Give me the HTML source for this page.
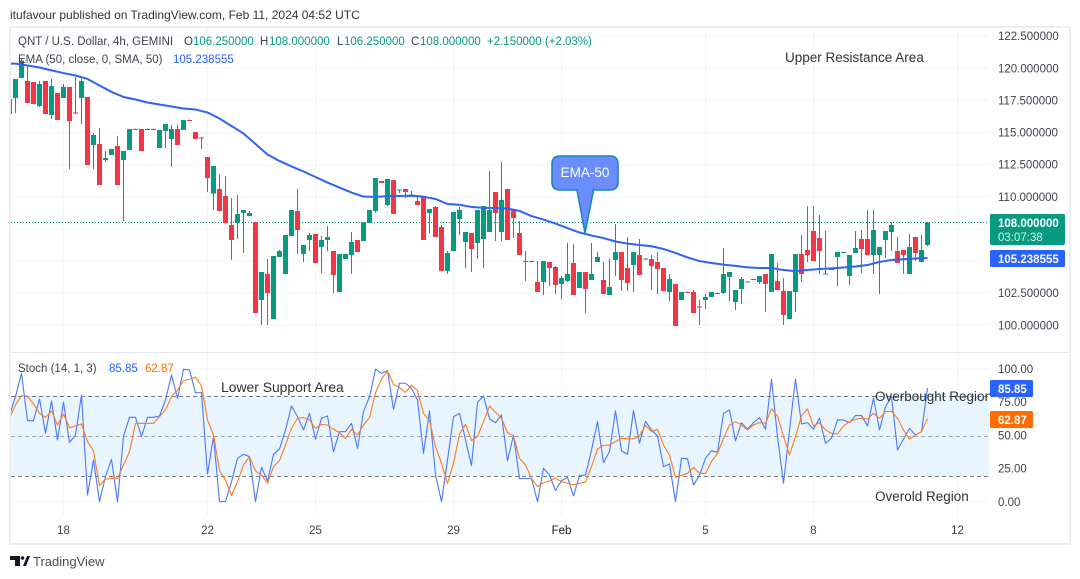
<!DOCTYPE html>
<html lang="en">
<head>
<meta charset="utf-8">
<title>QNT / U.S. Dollar 4h chart</title>
<style>
html,body{margin:0;padding:0;background:#fff;width:1080px;height:579px;overflow:hidden}
svg{display:block;font-family:"Liberation Sans",Arial,sans-serif}
text{white-space:pre}
</style>
</head>
<body>
<svg id="chart" width="1080" height="579" viewBox="0 0 1080 579">
  <defs>
    <clipPath id="pane-clip"><rect x="11" y="27" width="978" height="489"/></clipPath>
    <clipPath id="note-clip"><rect x="11" y="353" width="979" height="163"/></clipPath>
  </defs>
  <rect x="0" y="0" width="1080" height="579" fill="#ffffff"/>
  <text x="10" y="19" font-size="12" fill="#333">itufavour published on TradingView.com, Feb 11, 2024 04:52 UTC</text>
  <rect x="10" y="27" width="1060" height="517" fill="none" stroke="#eceef3" stroke-width="2"/>

  <g id="grid"></g>
  <rect x="11" y="352" width="1058" height="1" fill="#e4e5ee"/>
  <rect id="stoch-band" x="11" width="978" fill="#e8f4fe"/>
  <g id="stoch-levels"></g>
  <line id="last-price-line" x1="11" x2="989" stroke="#089981" stroke-width="1" stroke-dasharray="1 2"/>

  <g id="candles" clip-path="url(#pane-clip)" shape-rendering="crispEdges"></g>
  <path id="ema-line" fill="none" stroke="#2f62f5" stroke-width="2" stroke-linejoin="round" clip-path="url(#pane-clip)"/>
  <path id="stoch-k" fill="none" stroke="#4a78f7" stroke-width="1.1" stroke-linejoin="round" clip-path="url(#pane-clip)"/>
  <path id="stoch-d" fill="none" stroke="#ff7a1a" stroke-width="1.1" stroke-linejoin="round" clip-path="url(#pane-clip)"/>

  <g font-size="11.5">
    <text x="18" y="45" fill="#3f424d">QNT / U.S. Dollar, 4h, GEMINI</text>
    <text x="184" y="45" fill="#3f424d">O</text>
    <text x="193" y="45" fill="#089981">106.250000</text>
    <text x="260" y="45" fill="#3f424d">H</text>
    <text x="269" y="45" fill="#089981">108.000000</text>
    <text x="337" y="45" fill="#3f424d">L</text>
    <text x="344" y="45" fill="#089981">106.250000</text>
    <text x="411" y="45" fill="#3f424d">C</text>
    <text x="420" y="45" fill="#089981">108.000000</text>
    <text x="487" y="45" fill="#089981">+2.150000 (+2.03%)</text>
    <text x="18" y="63" fill="#3f424d">EMA (50, close, 0, SMA, 50)</text>
    <text x="173" y="63" fill="#2962ff">105.238555</text>
    <text x="18" y="372" fill="#3f424d">Stoch (14, 1, 3)</text>
    <text x="109" y="372" fill="#2962ff">85.85</text>
    <text x="145" y="372" fill="#ff6d00">62.87</text>
  </g>

  <g font-size="13.5" fill="#2f3136">
    <text x="785" y="62">Upper Resistance Area</text>
    <text x="221" y="392" font-size="13.9">Lower Support Area</text>
    <text x="875" y="401" clip-path="url(#note-clip)">Overbought Region</text>
    <text x="875" y="501">Overold Region</text>
  </g>

  <g>
    <path d="M560 156 H610 Q618 156 618 164 V182 Q618 190 610 190 H593.5 L585 233 L577 190 H560 Q552 190 552 182 V164 Q552 156 560 156 Z" fill="#6b8dfb" stroke="#1687c4" stroke-width="1.6" stroke-linejoin="round"/>
    <text x="585" y="177" font-size="13.5" fill="#ffffff" text-anchor="middle">EMA-50</text>
  </g>

  <g id="price-axis" font-size="11.5" fill="#3f424d"></g>
  <g id="stoch-axis" font-size="11.5" fill="#3f424d"></g>
  <g id="time-axis" font-size="11.5" fill="#3f424d"></g>

  <g>
    <rect x="990" y="214" width="75" height="31" rx="1.5" fill="#089981"/>
    <text x="998" y="227" font-size="11.5" font-weight="bold" fill="#ffffff">108.000000</text>
    <text x="998" y="241" font-size="11.5" fill="#d5efe9">03:07:38</text>
  </g>
  <g>
    <rect x="990" y="250" width="75" height="17" rx="1.5" fill="#2962ff"/>
    <text x="998" y="263" font-size="11.5" font-weight="bold" fill="#ffffff">105.238555</text>
  </g>
  <g>
    <rect x="990" y="380" width="43" height="17" rx="1.5" fill="#2962ff"/>
    <text x="998" y="393" font-size="11.5" font-weight="bold" fill="#ffffff">85.85</text>
  </g>
  <g>
    <rect x="990" y="411" width="43" height="17" rx="1.5" fill="#ff6d00"/>
    <text x="998" y="424" font-size="11.5" font-weight="bold" fill="#ffffff">62.87</text>
  </g>

  <g>
    <path d="M10 556 H20 V566 H15 V560 H10 Z M23 566 L27 556 H30 L26 566 Z" fill="#131722"/>
    <circle cx="22.5" cy="558" r="1.8" fill="#131722"/>
    <text x="33" y="566" font-size="13" fill="#4a4d57">TradingView</text>
  </g>
</svg>

<script>
// Candles: first entry is the partially clipped bar at the left edge.
const opens = [
116.44,117.69,119.25,119.01,118.93,117.07,119.01,116.37,118.08,117.69,
118.55,116.55,117.69,117.77,114.03,114.11,112.87,113.25,113.95,112.87,
113.64,115.28,115.28,115.28,115.23,113.80,115.12,114.50,115.28,115.20,
115.98,115.04,114.60,113.10,110.24,110.61,110.06,107.81,107.98,108.74,
108.51,108.04,101.97,103.99,100.49,105.31,103.99,106.95,108.90,105.55,
106.64,107.11,106.09,106.64,105.78,102.59,105.16,105.47,106.64,106.56,
107.96,108.90,111.23,109.36,111.31,110.50,110.61,110.12,109.67,110.06,
108.74,109.21,107.65,104.22,105.78,108.27,106.48,107.18,106.41,106.72,
107.26,110.37,107.26,110.61,109.05,107.18,105.00,104.95,103.37,103.37,
104.93,104.54,103.21,103.45,104.85,102.90,104.15,103.52,104.93,103.52,
102.36,105.08,105.70,104.46,104.69,105.47,105.14,105.16,104.93,104.46,
102.59,103.21,101.97,102.59,102.59,101.45,101.97,102.20,102.50,102.51,
103.76,101.81,102.82,103.35,103.58,103.37,103.99,102.59,103.45,102.67,
100.49,102.59,105.55,105.86,107.34,106.79,103.96,104.36,105.31,105.68,
103.84,105.63,106.72,106.72,105.47,105.47,106.64,107.26,105.78,105.86,
103.99,106.87,104.93,106.25];
const highs = [
117.61,119.17,120.72,120.26,118.93,119.01,119.01,119.17,118.08,118.78,
118.55,119.32,119.17,117.77,114.97,115.35,113.57,113.72,114.73,113.57,
115.28,115.30,115.28,115.30,115.30,115.20,115.67,115.59,115.59,115.98,
116.00,115.04,114.65,113.10,112.40,111.77,111.62,109.91,110.14,108.97,
108.90,108.04,104.15,105.16,105.39,105.86,107.03,108.97,110.61,106.25,
107.18,107.11,106.95,107.73,105.78,105.55,105.55,107.26,106.64,108.04,
108.97,111.46,111.23,111.39,111.31,110.56,110.61,110.45,110.14,110.06,
109.05,109.29,107.81,105.78,108.82,109.21,107.26,107.18,108.97,109.29,
112.01,110.37,112.71,110.61,109.05,108.12,105.78,105.00,105.00,105.00,
104.93,104.61,103.84,106.41,106.33,104.15,104.15,106.41,105.70,104.93,
105.16,107.88,105.70,106.87,105.70,106.72,105.18,105.47,105.70,104.46,
103.99,103.21,102.59,102.62,102.75,101.97,102.44,102.59,102.55,106.02,
104.15,102.75,103.76,103.39,103.62,103.84,103.99,105.55,104.85,103.68,
102.67,105.55,107.03,109.29,109.29,108.58,107.34,104.40,105.70,105.72,
105.47,107.34,107.42,108.97,108.97,106.09,107.34,108.04,106.87,105.86,
107.11,106.87,107.03,108.04];
const lows = [
116.44,116.54,119.25,117.30,117.22,116.99,116.44,116.05,115.98,117.69,
112.17,116.44,115.67,112.48,112.17,110.92,112.71,113.25,110.92,108.12,
113.64,115.20,113.57,115.20,115.20,113.80,113.80,112.32,114.03,115.20,
115.90,114.50,113.72,110.37,108.97,108.90,107.98,105.08,106.72,105.63,
108.51,100.96,100.02,100.02,100.49,105.31,103.99,106.95,105.55,104.93,
105.78,104.85,104.07,105.78,102.51,102.59,105.16,103.99,105.70,106.56,
107.96,108.74,111.07,109.29,108.66,110.30,109.91,110.10,109.36,106.64,
107.18,106.87,104.22,103.99,105.78,107.03,104.46,104.15,105.16,104.46,
107.26,106.56,106.56,106.64,106.79,105.47,103.45,104.90,102.59,102.36,
103.06,102.44,102.05,103.37,102.36,102.90,100.96,103.52,104.93,102.44,
102.36,103.84,102.67,102.67,102.59,103.91,105.10,102.75,102.44,102.67,
101.89,99.95,101.97,102.55,100.96,100.02,101.27,102.20,102.48,102.44,
101.89,101.19,101.66,103.33,103.56,103.21,101.04,102.59,102.75,100.02,
100.49,101.04,103.37,104.93,105.00,103.99,103.94,104.34,103.06,105.66,
103.14,105.63,104.07,105.47,103.99,102.44,105.24,105.78,104.85,103.99,
103.99,105.00,104.93,106.17];
const closes = [
117.61,119.17,120.60,117.30,117.22,118.78,116.44,118.62,115.98,118.55,
115.90,116.50,119.01,112.48,114.81,110.92,113.02,113.72,110.92,113.57,
115.28,115.23,113.57,115.23,115.28,115.20,115.67,115.28,114.03,115.98,
115.93,114.50,114.55,111.46,112.40,108.90,107.98,106.64,108.66,108.97,
108.74,100.96,104.15,102.51,105.39,105.78,107.03,108.97,107.42,106.25,
107.03,104.85,106.64,106.87,103.91,105.55,105.55,106.48,105.70,108.04,
108.97,111.46,111.07,111.39,108.66,110.56,110.37,110.17,109.36,106.64,
109.05,106.87,104.22,105.63,108.82,108.97,107.26,105.94,108.97,109.29,
108.97,108.74,109.75,106.64,108.35,105.47,104.95,105.00,102.59,105.00,
104.46,103.14,103.68,103.99,102.36,104.15,102.82,103.99,105.31,102.44,
102.98,105.70,103.52,103.29,105.70,103.91,105.18,104.61,104.38,102.67,
103.60,99.95,102.59,102.56,100.96,101.40,102.20,102.59,102.53,103.99,
104.15,102.75,103.60,103.39,103.62,103.84,103.21,105.55,102.75,100.80,
102.67,105.55,103.99,105.47,105.00,105.78,104.02,104.40,105.70,105.72,
105.47,106.02,105.94,105.47,107.42,106.09,107.34,107.81,104.85,105.47,
106.09,105.63,105.86,108.00];

// EMA(50), sampled every second bar starting from the off-screen-left bar.
const emaValues = [
120.38,120.36,120.22,120.06,119.84,119.63,119.44,119.17,118.66,118.16,117.77,
117.57,117.34,117.18,117.03,116.87,116.79,116.56,116.09,115.51,114.93,
114.11,113.29,112.79,112.36,111.97,111.54,111.11,110.72,110.33,110.02,
109.98,110.06,110.06,110.08,110.01,109.83,109.44,109.38,109.21,109.14,
109.13,109.09,108.90,108.50,108.23,107.92,107.57,107.22,106.99,106.79,
106.52,106.36,106.25,106.15,105.94,105.63,105.28,105.00,104.85,104.72,
104.62,104.51,104.46,104.46,104.30,104.22,104.30,104.38,104.43,104.50,
104.58,104.69,104.93,105.08,105.14,105.20,105.24];

const stochK = [
65.7,79.4,97.0,61.4,61.4,77.7,51.9,76.2,46.9,75.2,
45.1,50.6,80.7,5.5,31.8,0.5,19.3,32.3,0.5,49.4,
63.9,63.9,49.4,63.9,63.9,64.9,76.9,95.7,78.2,100,
99.5,82.4,82.4,21.3,49.4,0.5,0.5,15.5,33.1,36.1,
34.3,0.5,26.3,16.0,36.1,40.1,54.4,72.4,64.4,54.4,
66.9,47.4,63.2,64.9,38.1,53.1,53.1,59.4,40.6,
68.2,79.4,100,97.0,99.0,69.9,89.5,89.5,85.7,76.9,
36.8,68.7,20.5,0.5,31.8,64.4,66.9,46.9,27.6,75.2,
79.9,62.7,59.9,65.7,31.1,50.6,17.8,17.8,17.8,0.5,
25.6,20.5,8.8,16.3,18.8,4.8,20.3,20.5,39.3,60.6,
29.8,38.1,68.9,38.6,36.1,68.9,44.4,60.9,54.4,49.9,
26.8,28.8,0.5,33.1,32.8,13.0,20.5,33.1,38.8,37.6,
66.9,69.4,46.1,59.9,54.9,59.9,63.7,54.9,92.5,49.4,
14.3,54.4,92.5,58.9,59.9,55.1,63.2,44.4,48.1,61.9,
61.9,59.9,65.2,65.2,57.4,78.2,54.4,71.9,79.4,39.3,
47.4,55.6,50.6,53.1,85.85];
const stochD = [
63.2,73.2,80.2,79.9,73.9,66.9,63.7,68.7,58.1,66.4,
56.1,57.4,58.9,45.6,38.8,12.3,17.5,18.0,18.0,28.1,
38.1,59.4,59.4,59.4,59.4,64.4,69.4,79.4,84.4,91.5,
92.5,94.0,87.7,61.9,50.6,23.8,16.8,5.0,15.5,28.1,
34.3,23.6,20.5,14.3,26.8,31.3,43.1,55.6,63.2,63.7,
61.9,55.6,58.6,58.1,54.9,52.4,48.1,54.9,50.6,
58.1,63.7,82.4,92.7,98.7,88.7,86.2,82.7,88.0,84.0,
66.9,61.4,41.9,29.3,14.3,29.3,51.4,58.6,46.4,49.4,
60.6,72.4,67.7,63.2,52.4,49.9,33.1,28.1,18.0,11.8,
14.8,16.0,18.3,15.5,14.3,13.0,14.3,15.3,26.8,40.1,
42.9,42.9,45.6,48.1,47.9,47.6,49.9,57.9,53.1,54.9,
43.1,35.6,18.8,20.3,21.8,26.3,21.8,21.8,30.6,36.8,
48.1,58.1,60.6,58.1,54.4,58.1,59.9,59.4,70.2,64.9,
49.4,35.6,49.4,65.2,70.2,57.4,59.9,54.4,51.9,51.4,
57.4,60.6,62.4,63.2,62.7,66.9,63.2,68.2,68.4,63.2,
54.4,47.4,50.6,53.1,62.87];

const priceTicks = [122.5,120,117.5,115,112.5,110,107.5,105,102.5,100];
const stochTicks = [100,75,50,25,0];
const stochBandLevels = [80,50,20];
const lastPrice = 108;
const timeLabels = ['18','22','25','29','Feb','5','8','12'];
const timeLabelBars = [9,33,51,74,92,116,134,158];

const SVG_NS = 'http://www.w3.org/2000/svg';
const xBar = i => 9.5 + 6 * i;
const yPrice = p => 325.3 - (p - 100) * 12.85;
const yStoch = v => 502.3 - v * 1.33;

function make(tag, parent) {
  const el = document.createElementNS(SVG_NS, tag);
  parent.appendChild(el);
  return el;
}
function linePath(values, xFn, yFn) {
  return values.map((v, i) => (i ? 'L' : 'M') + xFn(i).toFixed(2) + ' ' + yFn(v).toFixed(2)).join(' ');
}

// Grid
const grid = document.getElementById('grid');
priceTicks.forEach(p => {
  const gridLine = make('rect', grid);
  
  
  gridLine.setAttribute('x', 11);
  gridLine.setAttribute('y', Math.round(yPrice(p)) - 0.5);
  gridLine.setAttribute('width', 978);
  gridLine.setAttribute('height', 1);
  gridLine.setAttribute('fill', '#f1f3f8');
});
stochTicks.forEach(v => {
  const gridLine = make('rect', grid);
  
  
  gridLine.setAttribute('x', 11);
  gridLine.setAttribute('y', Math.round(yStoch(v)) - 0.5);
  gridLine.setAttribute('width', 978);
  gridLine.setAttribute('height', 1);
  gridLine.setAttribute('fill', '#f1f3f8');
});
timeLabelBars.forEach(b => {
  const gridLine = make('rect', grid);
  
  
  gridLine.setAttribute('x', xBar(b) - 0.5);
  gridLine.setAttribute('y', 28);
  gridLine.setAttribute('width', 1);
  gridLine.setAttribute('height', 488);
  gridLine.setAttribute('fill', '#f1f3f8');
});

// Stochastic band and levels
const band = document.getElementById('stoch-band');
band.setAttribute('y', yStoch(stochBandLevels[0]));
band.setAttribute('height', yStoch(stochBandLevels[2]) - yStoch(stochBandLevels[0]));
const levels = document.getElementById('stoch-levels');
stochBandLevels.forEach(v => {
  const level = make('line', levels);
  
  
  level.setAttribute('x1', 11);
  level.setAttribute('x2', 989);
  level.setAttribute('y1', Math.round(yStoch(v)) + 0.5);
  level.setAttribute('y2', Math.round(yStoch(v)) + 0.5);
  level.setAttribute('stroke', v === 50 ? '#a3a6af' : '#787b86');
  level.setAttribute('stroke-width', 1);
  level.setAttribute('stroke-dasharray', '4 3');
});

// Last price line
const lastLine = document.getElementById('last-price-line');
lastLine.setAttribute('y1', yPrice(lastPrice));
lastLine.setAttribute('y2', yPrice(lastPrice));

// Candles
const candles = document.getElementById('candles');
opens.forEach((o, i) => {
  const c = closes[i];
  const color = c >= o ? '#089981' : '#f23645';
  const cx = xBar(i);
  const wick = make('rect', candles);
  
  
  wick.setAttribute('x', cx - 0.5);
  wick.setAttribute('y', yPrice(highs[i]));
  wick.setAttribute('width', 1);
  wick.setAttribute('height', Math.max(1, yPrice(lows[i]) - yPrice(highs[i])));
  wick.setAttribute('fill', color);
  const body = make('rect', candles);
  
  
  body.setAttribute('x', cx - 2.5);
  body.setAttribute('y', yPrice(Math.max(o, c)));
  body.setAttribute('width', 5);
  body.setAttribute('height', Math.max(1, Math.abs(yPrice(o) - yPrice(c))));
  body.setAttribute('fill', color);
});

// Lines
document.getElementById('ema-line').setAttribute('d', linePath(emaValues, i => xBar(2 * i - 1), yPrice));
document.getElementById('stoch-k').setAttribute('d', linePath(stochK, xBar, yStoch));
document.getElementById('stoch-d').setAttribute('d', linePath(stochD, xBar, yStoch));

// Axes
const priceAxis = document.getElementById('price-axis');
priceTicks.forEach(p => {
  const label = make('text', priceAxis);
  
  
  label.setAttribute('x', 998);
  label.setAttribute('y', yPrice(p) + 4);
  label.textContent = p.toFixed(6);
});
const stochAxis = document.getElementById('stoch-axis');
stochTicks.forEach(v => {
  const label = make('text', stochAxis);
  
  
  label.setAttribute('x', 998);
  label.setAttribute('y', yStoch(v) + 3.5);
  label.textContent = v.toFixed(2);
});
const timeAxis = document.getElementById('time-axis');
timeLabels.forEach((t, i) => {
  const label = make('text', timeAxis);
  
  
  label.setAttribute('x', xBar(timeLabelBars[i]));
  label.setAttribute('y', 534);
  label.setAttribute('text-anchor', 'middle');
  if (t === 'Feb') label.setAttribute('fill', '#131722');
  label.textContent = t;
});
</script>
</body>
</html>
